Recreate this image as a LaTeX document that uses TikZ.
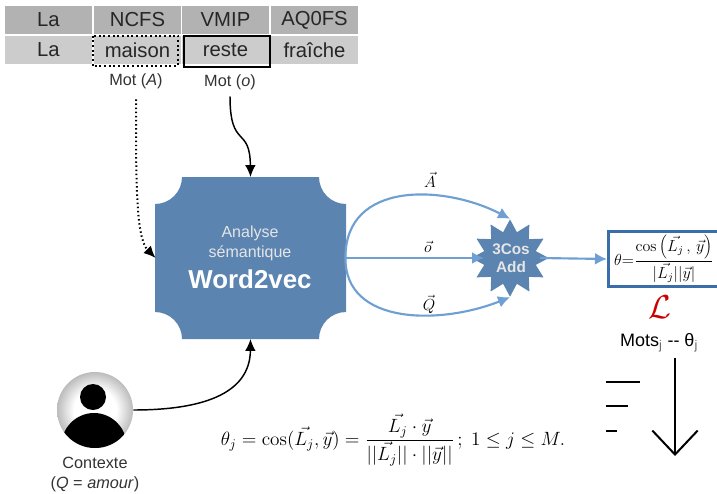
\documentclass[tikz,border=0pt]{standalone}
\usepackage[no-math]{fontspec}
\setmainfont{Liberation Sans}
\usetikzlibrary{arrows.meta,shapes.geometric}
\pgfdeclareradialshading{halo}{\pgfpointorigin}{color(0bp)=(white); color(14bp)=(white); color(35bp)=(black!50); color(50bp)=(black!50)}
\begin{document}
\begin{tikzpicture}[x=0.75pt,y=-0.75pt,
  tag/.style={fill=tag gray, minimum width=65.5pt, minimum height=21pt, inner sep=0pt, text=black!85, font=\fontsize{15.2}{17}\selectfont},
  word/.style={tag, fill=word gray},
  small/.style={font=\fontsize{12.2}{15}\selectfont, text=black!80},
  link/.style={line width=1.1pt, -{Latex[length=9pt,width=8pt]}},
  flow/.style={draw=flow blue, line width=1.6pt, -{Latex[length=9pt,width=9pt]}}]

\definecolor{tag gray}{gray}{.7}
\definecolor{word gray}{gray}{.8}
\definecolor{box blue}{HTML}{5B84B1}
\definecolor{flow blue}{HTML}{6FA0D3}
\definecolor{frame blue}{HTML}{3A6EA8}

\useasboundingbox (0,0) rectangle (717,493);

 \node[tag] (tag1) at (48.5,20) {La};
 \node[tag] (tag2) at (137.5,20) {NCFS};
 \node[tag] (tag3) at (225.5,20) {VMIP};
 \node[tag] (tag4) at (314.5,20) {AQ0FS};
 \node[word] (word1) at (48.5,50) {La};
 \node[word] (word2) at (137.5,50) {maison};
 \node[word] (word3) at (225.5,50) {reste};
 \node[word] (word4) at (314.5,50) {fraîche};
 \draw[line width=1.5pt, dotted] (92.5,35.5) rectangle (178,66);
 \draw[line width=1.2pt] (184,36) rectangle (270,67);
 \node[small] (motA) at (136,81) {Mot (\textit{A})};
 \node[small] (moto) at (230,82) {Mot (\textit{o})};

 % concave corners
 \fill[box blue] (182,177) -- (319,177) arc[start angle=180, end angle=270, radius=27*0.75pt]
    -- (346,312) arc[start angle=90, end angle=180, radius=27*0.75pt]
    -- (182,339) arc[start angle=0, end angle=90, radius=27*0.75pt]
    -- (155,204) arc[start angle=-90, end angle=0, radius=27*0.75pt] -- cycle;
 \node[minimum width=142pt, minimum height=121pt, inner sep=0pt] (analyse) at (250.5,258) {};
 \node[text=black!10!white, align=center, font=\fontsize{12}{15}\selectfont] (label) at (250,243.5) {Analyse\\sémantique};
 \node[text=white, font=\bfseries\fontsize{19.4}{21}\selectfont] (w2v) at (250,279) {Word2vec};

 \node[star, star points=12, star point ratio=1.45, fill=box blue, minimum size=58pt, inner sep=0pt] (star) at (510,258) {};
 \node[text=black!10!white, align=center, font=\bfseries\fontsize{11.5}{13.5}\selectfont] (add) at (511,258) {3Cos\\Add};
 \coordinate (starin) at (484,258);
 \coordinate (starout) at (540,258);

 \node[draw=frame blue, line width=2.2pt, minimum width=86pt, minimum height=41pt, inner sep=0pt, anchor=west] (theta) at (607,259) {};
 \node[inner sep=0pt, font=\fontsize{12}{14}\selectfont] (formula) at (664,259) {$\displaystyle\theta{=}\frac{\cos\left(\vec{L_{j}}\,,\,\vec{y}\right)}{|\vec{L_{j}}||\vec{y}|}$};
 \node[text=red!80!black, font=\fontsize{24.88}{26}\selectfont] (loss) at (660,307) {$\mathcal{L}$};
 \node[font=\fontsize{13.5}{15}\selectfont] (mots) at (659,343) {Mots{\color{black!60}\textsubscript{j}} -{}- θ{\color{black!60}\textsubscript{j}}};

 \draw[link, dotted, line width=1.5pt] (motA.south) ++(0,6) .. controls (136,185) and (136,238) .. (analyse.west);
 \draw[link] (moto.south) ++(0,2) .. controls (230,150) and (250,125) .. (analyse.north);

 \node[circle, minimum size=57pt, inner sep=0pt, shading=halo] (person) at (95,410) {};
 \begin{scope}
  \clip (95,410) circle (38);
  \fill (94,447) ellipse (33 and 34);
 \end{scope}
 \fill (93,397) circle (13);
 \node[small, align=center] (ctx) at (95,474) {Contexte\\(\textit{Q} = \textit{amour})};
 \draw[link] (person.east) .. controls (200,410) and (250,395) .. (analyse.south);

 \draw[flow] (analyse.east) .. controls (345,180) and (445,185) .. (star.north);
 \draw[flow] (analyse.east) -- (starin);
 \draw[flow] (analyse.east) .. controls (345,325) and (440,325) .. (star.south);
 \draw[flow] (starout) -- (theta.west);
 \node[font=\fontsize{12}{14}\selectfont] (vecA) at (430,180) {$\vec{A}$};
 \node[font=\fontsize{12}{14}\selectfont] (veco) at (428,247) {$\vec{o}$};
 \node[font=\fontsize{12}{14}\selectfont] (vecQ) at (429,304) {$\vec{Q}$};

 \node[font=\fontsize{14.4}{17}\selectfont] (eq) at (393,440) {$\displaystyle\theta_j=\cos(\vec{L_j},\vec{y})=\frac{\vec{L_j}\cdot\vec{y}}{||\vec{L_j}||\cdot||\vec{y}||}\,;\ 1\leq j\leq M.$};

 \coordinate (rank1a) at (606,382); \coordinate (rank1b) at (640,382);
 \coordinate (rank2a) at (606,406); \coordinate (rank2b) at (628,406);
 \coordinate (rank3a) at (606,431); \coordinate (rank3b) at (617,431);
 \draw[line width=1.5pt] (rank1a) -- (rank1b) (rank2a) -- (rank2b) (rank3a) -- (rank3b);
 \coordinate (downtop) at (675,358); \coordinate (downtip) at (675,456);
 \draw[line width=1.5pt, -{Straight Barb[length=18pt,width=34pt]}] (downtop) -- (downtip);
\end{tikzpicture}
\end{document}
